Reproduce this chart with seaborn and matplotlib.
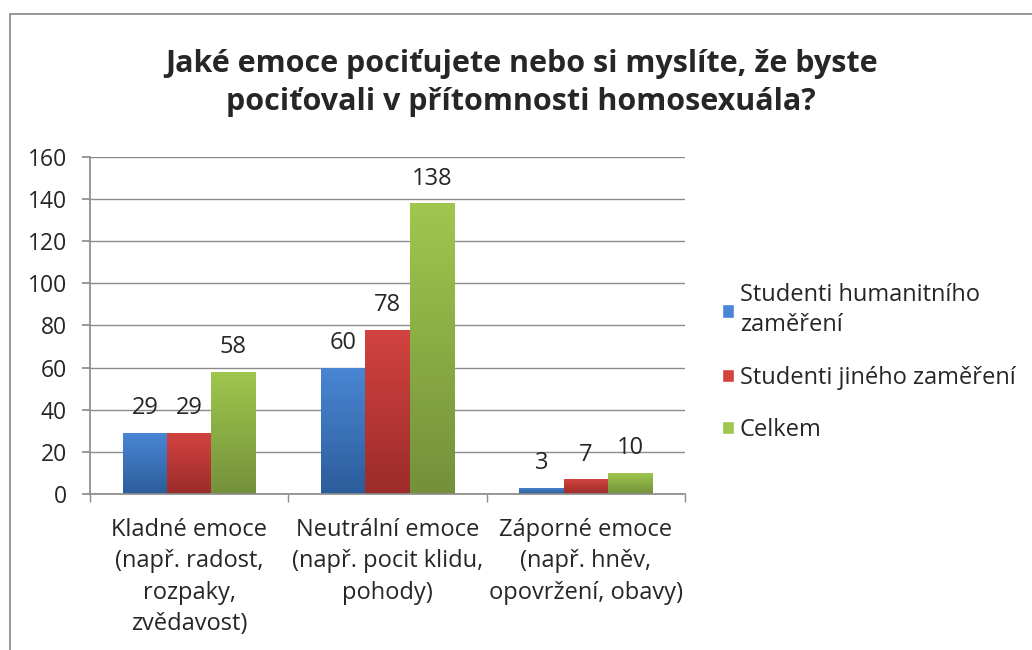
import numpy as np
import pandas as pd
import seaborn as sns
import matplotlib.pyplot as plt
from matplotlib.patches import Rectangle
from matplotlib.colors import LinearSegmentedColormap

categories = [
    "Kladné emoce\n(např. radost,\nrozpaky,\nzvědavost)",
    "Neutrální emoce\n(např. pocit klidu,\npohody)",
    "Záporné emoce\n(např. hněv,\nopovržení, obavy)",
]
series_names = ["Studenti humanitního\nzaměření", "Studenti jiného zaměření", "Celkem"]
humanitni = [29, 60, 3]
jine = [29, 78, 7]
celkem = [58, 138, 10]

# top / bottom colours of the Excel-like gradient fill
grad_top = ["#4a86d4", "#d24340", "#9fc74e"]
grad_bottom = ["#2c5d9b", "#9c2c2a", "#74913a"]

sns.set_theme(style="white")
plt.rcParams["font.family"] = ["Open Sans", "DejaVu Sans"]

df = pd.DataFrame({
    "kategorie": categories * 3,
    "serie": [series_names[0]] * 3 + [series_names[1]] * 3 + [series_names[2]] * 3,
    "hodnota": humanitni + jine + celkem,
})

fig = plt.figure(figsize=(10.32, 6.5), dpi=100)
ax = fig.add_axes([0.0872, 0.24, 0.5765, 0.5185])

sns.barplot(data=df, x="kategorie", y="hodnota", hue="serie", order=categories,
            hue_order=series_names, palette=grad_top, width=0.67, saturation=1,
            ax=ax, legend=True)

ax.set_ylim(0, 160)
ax.set_xlim(-0.5, 2.5)
ax.set_yticks(range(0, 161, 20))
ax.yaxis.grid(True, color="#8c8c8c", linewidth=1.0)
ax.set_axisbelow(True)
for s in ["top", "right"]:
    ax.spines[s].set_visible(False)
ax.spines["left"].set_color("#8c8c8c")
ax.spines["bottom"].set_color("#8c8c8c")

ax.set_xlabel("")
ax.set_ylabel("")
ax.tick_params(axis="y", labelsize=16.5, length=5.5, color="#8c8c8c", left=True, pad=11)
ax.tick_params(axis="x", labelsize=17, length=0, pad=17)
for lab in ax.get_xticklabels():
    lab.set_linespacing(1.42)
ax.set_xticks([-0.5, 0.5, 1.5, 2.5], minor=True)
ax.tick_params(axis="x", which="minor", length=6, color="#8c8c8c", bottom=True)

# gradient fill for each bar and value labels
for i, cont in enumerate(ax.containers):
    cmap = LinearSegmentedColormap.from_list("g", [grad_bottom[i], grad_top[i]])
    for bar in cont:
        x0, y0 = bar.get_x(), bar.get_y()
        w, h = bar.get_width(), bar.get_height()
        bar.set_facecolor("none")
        bar.set_edgecolor("none")
        img = ax.imshow(np.linspace(0, 1, 100).reshape(-1, 1), cmap=cmap, origin="lower",
                        extent=[x0, x0 + w, y0, y0 + h], aspect="auto", zorder=2)
        clip = Rectangle((x0, y0), w, h, transform=ax.transData, visible=False)
        ax.add_patch(clip)
        img.set_clip_path(clip)
    ax.bar_label(cont, fontsize=17, padding=9)
ax.set_xlim(-0.5, 2.5)
ax.set_ylim(0, 160)

handles, labels = ax.get_legend_handles_labels()
leg = ax.legend(handles, labels, loc="center left", bbox_to_anchor=(1.027, 0.39),
                frameon=False, fontsize=17, handlelength=0.5, handleheight=0.5,
                handletextpad=0.25, labelspacing=1.2)
for t in leg.get_texts():
    t.set_linespacing(1.35)

fig.suptitle("Jaké emoce pociťujete nebo si myslíte, že byste\npociťovali v přítomnosti homosexuála?",
             x=0.505, y=0.925, fontsize=22, fontweight="bold", linespacing=1.36)

fig.patches.append(Rectangle((10 / 1032, -0.1), 1.2, 1 - 14 / 650 + 0.1, transform=fig.transFigure,
                             fill=False, edgecolor="#868686", linewidth=1.2))

fig.savefig("out.png", dpi=100)
